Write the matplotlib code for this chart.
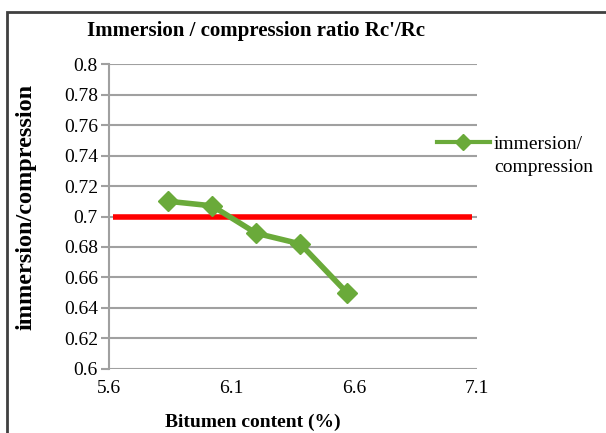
import matplotlib
matplotlib.use("Agg")
import matplotlib.pyplot as plt
from matplotlib.lines import Line2D
from matplotlib.patches import Rectangle

plt.rcParams['font.family'] = ['Liberation Serif', 'DejaVu Serif']

bitumen = [5.84, 6.02, 6.2, 6.38, 6.57]
ratio = [0.710, 0.707, 0.689, 0.682, 0.650]
limit_x = [5.615, 7.08]
limit_y = [0.70, 0.70]
xticks = [5.6, 6.1, 6.6, 7.1]
yticks = [0.6, 0.62, 0.64, 0.66, 0.68, 0.7, 0.72, 0.74, 0.76, 0.78, 0.8]
ytick_labels = ['0.6', '0.62', '0.64', '0.66', '0.68', '0.7', '0.72',
                '0.74', '0.76', '0.78', '0.8']

fig = plt.figure(figsize=(6.06, 4.33), dpi=100)
ax = fig.add_axes([0.18, 0.148, 0.607, 0.704])

green = '#6aaa3a'
ax.plot(limit_x, limit_y, color='#ff0000', lw=4, solid_capstyle='butt', zorder=2)
ax.plot(bitumen, ratio, color=green, lw=4, marker='D', markersize=10,
        markeredgecolor=green, zorder=3)

ax.set_xlim(5.6, 7.1)
ax.set_ylim(0.6, 0.8)
ax.set_xticks(xticks)
ax.set_xticklabels([str(v) for v in xticks])
ax.set_yticks(yticks)
ax.set_yticklabels(ytick_labels)
ax.grid(axis='y', color='#a0a0a0', lw=1.5)
ax.set_axisbelow(True)
for s in ['top', 'right', 'bottom']:
    ax.spines[s].set_visible(False)
ax.spines['left'].set_color('#a0a0a0')
ax.spines['left'].set_linewidth(1.5)
ax.tick_params(axis='y', length=6, width=1.5, color='#a0a0a0', labelsize=14, pad=2)
ax.tick_params(axis='x', length=0, labelsize=14, pad=8)

ax.set_title("Immersion / compression ratio Rc'/Rc", fontsize=15, fontweight='bold',
             x=0.4, pad=20)
ax.set_ylabel('immersion/compression', fontsize=17.5, fontweight='bold')
ax.yaxis.set_label_coords(-0.197, 0.53)
ax.set_xlabel('Bitumen content (%)', fontsize=14, fontweight='bold', x=0.39, labelpad=12)

# legend drawn by hand so the marker sits beside the first line of text
fig.add_artist(Line2D([437 / 606, 490 / 606], [1 - 142 / 433, 1 - 142 / 433],
                      transform=fig.transFigure, color=green, lw=3))
fig.add_artist(Line2D([463 / 606], [1 - 142 / 433], transform=fig.transFigure,
                      color=green, marker='D', markersize=8, lw=0))
fig.text(494 / 606, 1 - 136 / 433, 'immersion/\ncompression', fontsize=14,
         va='top', ha='left', linespacing=1.45)

fig.patches.append(Rectangle((0.012, -0.05), 1.1, 1.022, transform=fig.transFigure,
                             fill=False, edgecolor='#404040', lw=2))

fig.savefig('out.png', dpi=100)
